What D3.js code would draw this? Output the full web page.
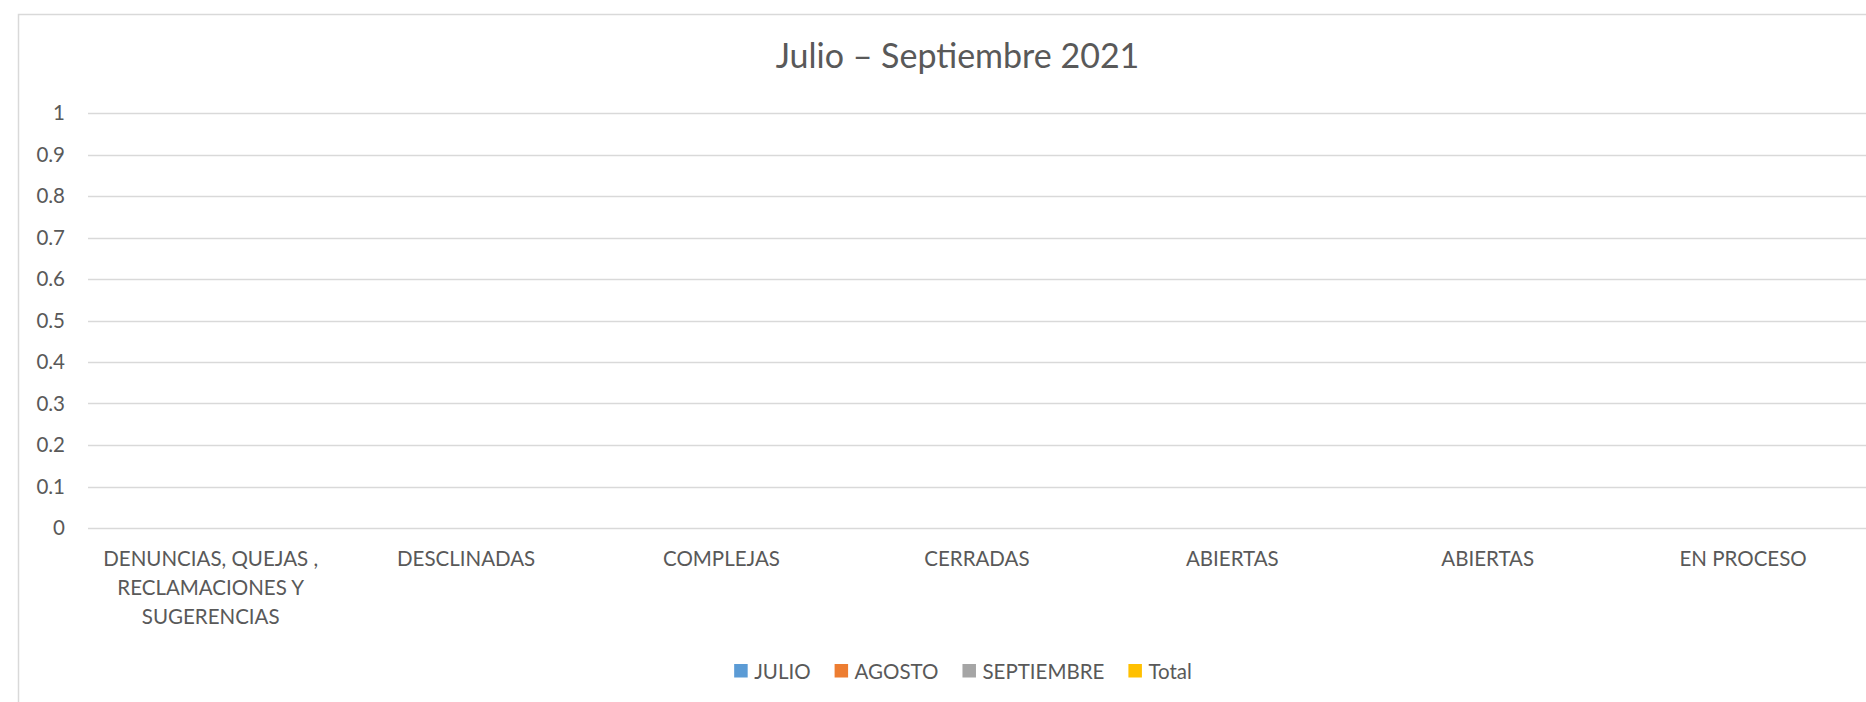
<!DOCTYPE html>
<html>
<head>
<meta charset="utf-8">
<script src="https://cdn.jsdelivr.net/npm/d3@7"></script>
<style>
  html, body { margin: 0; padding: 0; background: #ffffff; overflow: hidden; }
  svg { display: block; }
  text { font-family: Lato, "Open Sans", sans-serif; fill: #595959; }
</style>
</head>
<body>
<svg id="chart" width="1866" height="702"></svg>
<script>
// ---- data ----
const title = "Julio \u2013 Septiembre 2021";
const categories = [
  ["DENUNCIAS, QUEJAS ,", "RECLAMACIONES Y", "SUGERENCIAS"],
  ["DESCLINADAS"],
  ["COMPLEJAS"],
  ["CERRADAS"],
  ["ABIERTAS"],
  ["ABIERTAS"],
  ["EN PROCESO"]
];
const seriesNames = ["JULIO", "AGOSTO", "SEPTIEMBRE", "Total"];
const seriesColors = ["#5B9BD5", "#ED7D31", "#A5A5A5", "#FFC000"];
const julio      = [0, 0, 0, 0, 0, 0, 0];
const agosto     = [0, 0, 0, 0, 0, 0, 0];
const septiembre = [0, 0, 0, 0, 0, 0, 0];
const total      = [0, 0, 0, 0, 0, 0, 0];
const yTicks = [0, 0.1, 0.2, 0.3, 0.4, 0.5, 0.6, 0.7, 0.8, 0.9, 1];

const seriesValues = [julio, agosto, septiembre, total];

// ---- layout ----
const svg = d3.select("#chart");

// chart frame (extends beyond the right and bottom edges)
svg.append("rect")
  .attr("x", 18.5).attr("y", 14.5)
  .attr("width", 1900).attr("height", 720)
  .attr("fill", "#ffffff")
  .attr("stroke", "#d9d9d9").attr("stroke-width", 1.5);

const plotLeft = 88, plotRight = 1880;
const y = d3.scaleLinear().domain([0, 1]).range([528, 113]);
const catKeys = categories.map((c, i) => i);
const x = d3.scaleBand().domain(catKeys).range([83, 83 + 7 * 255.4]).paddingInner(0);
const xs = d3.scaleBand().domain(seriesNames).range([0, x.bandwidth()]).paddingInner(0.1).paddingOuter(1.2);

// title
svg.append("text")
  .attr("x", 957.5).attr("y", 68)
  .attr("text-anchor", "middle")
  .style("font-size", "34px")
  .text(title);

// gridlines
const grid = svg.append("g");
grid.selectAll("line").data(yTicks).join("line")
  .attr("x1", plotLeft).attr("x2", plotRight)
  .attr("y1", d => Math.round(y(d)) + 0.5).attr("y2", d => Math.round(y(d)) + 0.5)
  .attr("stroke", "#d9d9d9").attr("stroke-width", 1.5);

// y tick labels
svg.append("g").selectAll("text").data(yTicks).join("text")
  .attr("x", 65).attr("y", d => y(d))
  .attr("dy", "0.36em")
  .attr("text-anchor", "end")
  .style("font-size", "20.5px")
  .text(d => d3.format("")(d));

// bars (all values are zero)
const bars = svg.append("g");
seriesValues.forEach((vals, si) => {
  bars.append("g").selectAll("rect").data(vals).join("rect")
    .attr("x", (d, i) => x(i) + xs(seriesNames[si]))
    .attr("width", xs.bandwidth())
    .attr("y", d => y(d))
    .attr("height", d => y(0) - y(d))
    .attr("fill", seriesColors[si]);
});

// category labels
const catG = svg.append("g");
categories.forEach((lines, i) => {
  const t = catG.append("text")
    .attr("x", x(i) + x.bandwidth() / 2)
    .attr("y", 566)
    .attr("text-anchor", "middle")
    .style("font-size", "20.5px");
  lines.forEach((ln, li) => {
    t.append("tspan")
      .attr("x", x(i) + x.bandwidth() / 2)
      .attr("y", 566 + li * 29)
      .text(ln);
  });
});

// legend (laid out from measured text widths, centred)
const sq = 13.5, gapText = 6.5, gapItem = 24, legendCenter = 963;
const lg = svg.append("g");
const items = seriesNames.map((name, i) => {
  const g = lg.append("g");
  g.append("rect")
    .attr("x", 0).attr("y", 664)
    .attr("width", sq).attr("height", sq)
    .attr("fill", seriesColors[i]);
  const t = g.append("text")
    .attr("x", sq + gapText).attr("y", 678.5)
    .style("font-size", "20.5px")
    .text(name);
  const w = sq + gapText + t.node().getComputedTextLength();
  return { g, w };
});
const totalW = d3.sum(items, d => d.w) + gapItem * (items.length - 1);
let cx = legendCenter - totalW / 2;
items.forEach(it => {
  it.g.attr("transform", `translate(${cx},0)`);
  cx += it.w + gapItem;
});
</script>
</body>
</html>
